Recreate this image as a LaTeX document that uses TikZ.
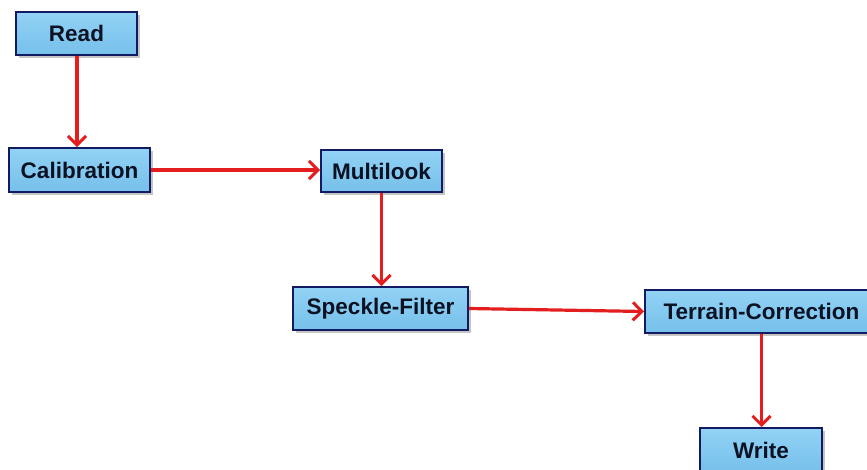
\documentclass[tikz,border=0pt]{standalone}
\usepackage{fontspec}
\setmainfont{Liberation Sans}
\usetikzlibrary{arrows.meta,shadows}
\definecolor{boxtop}{RGB}{146,210,245}
\definecolor{boxbot}{RGB}{118,192,234}
\definecolor{boxline}{RGB}{18,26,100}
\definecolor{txt}{RGB}{12,18,36}
\definecolor{arr}{RGB}{228,30,30}
\begin{document}
\begin{tikzpicture}[x=1pt,y=-1pt,
  opbox/.style={draw=boxline, line width=2pt, top color=boxtop, bottom color=boxbot,
    minimum height=43pt, inner sep=0pt, text=txt,
    font=\fontsize{22.5}{26}\selectfont\bfseries,
    drop shadow={shadow xshift=2.5pt, shadow yshift=-2.5pt, opacity=0.45, fill=gray}},
  flow/.style={draw=arr, line width=3.2pt, -{Straight Barb[length=9pt,width=18pt,line width=3pt]}}]
\useasboundingbox (0,0) rectangle (867,469);
\clip (0,0) rectangle (867,469);
\fill[white] (0,0) rectangle (867,469);
\node[opbox, minimum width=121pt] (read) at (76.5,33.5) {Read};
\node[opbox, minimum width=141pt, minimum height=44pt] (cal) at (79.5,170) {Calibration};
\node[opbox, minimum width=121pt, minimum height=42pt] (mul) at (381.5,171) {Multilook};
\node[opbox, minimum width=175pt] (spk) at (380.5,308.5) {Speckle-Filter};
\node[opbox, minimum width=233pt] (ter) at (761.5,311.5) {Terrain-Correction};
\node[opbox, minimum width=122pt, minimum height=44pt] (wri) at (761,450) {Write};
\draw[flow] ([xshift=0.5pt]read.south) -- ([xshift=0.5pt]read.south |- cal.north);
\draw[flow] (cal.east) -- (cal.east -| mul.west);
\draw[flow] (mul.south) -- (mul.south |- spk.north);
\draw[flow] (spk.east) -- (ter.west);
\draw[flow] (ter.south) -- (ter.south |- wri.north);
\end{tikzpicture}
\end{document}
